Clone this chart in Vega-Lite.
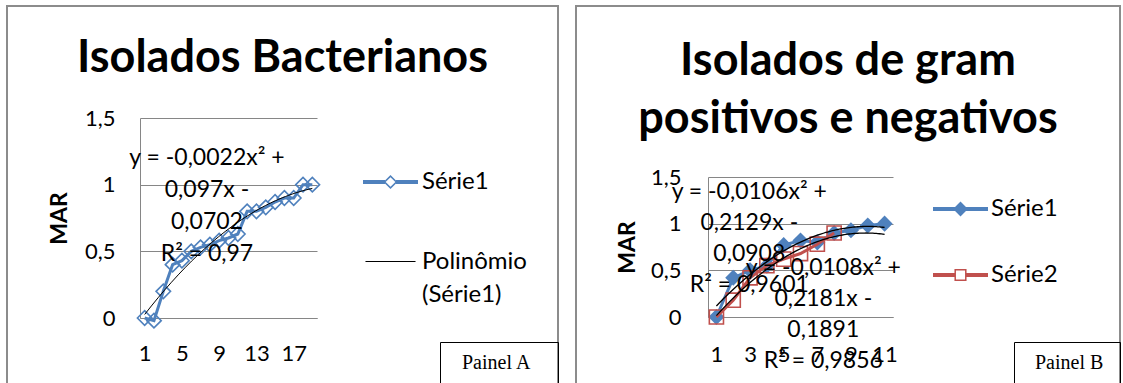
{
  "$schema": "https://vega.github.io/schema/vega-lite/v6.json",
  "background": "white",
  "padding": {"left": 6, "top": 5, "right": 0, "bottom": 0},
  "spacing": 15,
  "config": {"view": {"stroke": "#8c8c8c", "strokeWidth": 2}, "font": "Lato"},
  "resolve": {"scale": {"color": "independent", "strokeDash": "independent"}, "legend": {"color": "independent", "strokeDash": "independent"}},
  "hconcat": [
    {
      "width": 551,
      "height": 378,
      "title": {"text": "Isolados Bacterianos", "font": "Lato", "fontSize": 45, "fontWeight": "bold", "color": "#000", "anchor": "middle", "frame": "group", "offset": -75},
      "data": {"values": [
        {"x": 1, "y": 0, "s": "Série1"}, {"x": 2, "y": -0.02, "s": "Série1"}, {"x": 3, "y": 0.2, "s": "Série1"},
        {"x": 4, "y": 0.4, "s": "Série1"}, {"x": 5, "y": 0.43, "s": "Série1"}, {"x": 6, "y": 0.5, "s": "Série1"},
        {"x": 7, "y": 0.53, "s": "Série1"}, {"x": 8, "y": 0.55, "s": "Série1"}, {"x": 9, "y": 0.58, "s": "Série1"},
        {"x": 10, "y": 0.6, "s": "Série1"}, {"x": 11, "y": 0.63, "s": "Série1"}, {"x": 12, "y": 0.8, "s": "Série1"},
        {"x": 13, "y": 0.8, "s": "Série1"}, {"x": 14, "y": 0.83, "s": "Série1"}, {"x": 15, "y": 0.87, "s": "Série1"},
        {"x": 16, "y": 0.9, "s": "Série1"}, {"x": 17, "y": 0.9, "s": "Série1"}, {"x": 18, "y": 1, "s": "Série1"},
        {"x": 19, "y": 1, "s": "Série1"}
      ]},
      "encoding": {
        "x": {"field": "x", "type": "quantitative",
          "scale": {"domain": [0.5, 19.5], "range": [133, 310], "nice": false, "zero": false},
          "axis": {"orient": "bottom", "offset": -66, "values": [1, 5, 9, 13, 17], "labelFont": "Lato", "labelFontSize": 22, "labelColor": "#000", "labelPadding": 25, "labelFlush": false, "ticks": false, "grid": false, "domainColor": "#868686", "title": null}},
        "y": {"field": "y", "type": "quantitative",
          "scale": {"domain": [0, 1.5], "range": [312, 112], "nice": false, "zero": false},
          "axis": {"orient": "left", "offset": -133, "values": [0, 0.5, 1, 1.5], "labelExpr": "replace(toString(datum.value), '.', ',')", "labelFont": "Lato", "labelFontSize": 22, "labelColor": "#000", "labelPadding": 25, "ticks": false, "grid": true, "gridColor": "#868686", "domainColor": "#868686", "title": "MAR", "titleFont": "Lato", "titleFontSize": 23, "titleFontWeight": "bold", "titleColor": "#000", "titleX": -81, "titleY": 212, "titleAngle": -90, "titleAlign": "center", "titleBaseline": "middle"}}
      },
      "layer": [
        {
          "mark": {"type": "line", "strokeWidth": 3},
          "encoding": {
            "color": {"field": "s", "type": "nominal",
              "scale": {"domain": ["Série1", "Polinômio (Série1)"], "range": ["#4F81BD", "#000000"]},
              "legend": {"orient": "none", "legendX": 356, "legendY": 148.5, "title": null, "padding": 0, "symbolSize": 3025, "rowPadding": 39.5, "labelOffset": 4, "labelFont": "Lato", "labelFontSize": 24, "labelColor": "#000", "labelLimit": 300,
                "labelExpr": "datum.label == 'Polinômio (Série1)' ? ['Polinômio', '(Série1)'] : datum.label",
                "encode": {
                  "symbols": {"update": {
                    "shape": [{"test": "datum.index == 0", "value": "M-1,-0.07H-0.2V0.07H-1Z M0.2,-0.07H1V0.07H0.2Z M0,-0.255L0.255,0L0,0.255L-0.255,0Z M0,-0.177L-0.177,0L0,0.177L0.177,0Z"}, {"value": "M-0.91,-0.02H0.91V0.02H-0.91Z"}],
                    "fill": [{"test": "datum.index == 0", "value": "#4F81BD"}, {"value": "#000000"}],
                    "stroke": {"value": "transparent"},
                    "strokeWidth": {"value": 0},
                    "opacity": {"value": 1},
                    "fillOpacity": {"value": 1}
                  }},
                  "labels": {"update": {"lineHeight": {"value": 33}}}
                }}
            }
          }
        },
        {
          "mark": {"type": "point", "shape": "diamond", "filled": false, "stroke": "#4F81BD", "strokeWidth": 1.6, "size": 210, "opacity": 1}
        },
        {
          "transform": [{"regression": "y", "on": "x", "method": "poly", "order": 2, "extent": [1, 19]}],
          "mark": {"type": "line", "color": "#000", "strokeWidth": 1}
        },
        {
          "data": {"values": [{"x": 7.69, "y": 1.2, "label": "y = -0,0022x² +\n0,097x -\n0,0702\nR² = 0,97"}]},
          "mark": {"type": "text", "font": "Lato", "fontSize": 23, "lineHeight": 32, "lineBreak": "\n", "align": "center", "baseline": "middle", "color": "#000"},
          "encoding": {"text": {"field": "label", "type": "nominal"}}
        },
        {
          "transform": [{"filter": "false"}],
          "mark": {"type": "point"},
          "encoding": {
            "strokeDash": {"field": "p", "type": "nominal",
              "scale": {"domain": ["Painel A"], "range": [[1, 0]]},
              "legend": {"orient": "none", "legendX": 433, "legendY": 336, "title": "ii", "titleOrient": "right", "titlePadding": 4, "titleOpacity": 0, "titleFont": "Liberation Serif", "titleFontSize": 20, "padding": 11, "strokeColor": "#000", "symbolSize": 0, "symbolOpacity": 0, "labelOffset": -9, "labelFont": "Liberation Serif", "labelFontSize": 20, "labelColor": "#000",
                "encode": {"legend": {"update": {"strokeWidth": {"value": 1.5}}}}}
            }
          }
        }
      ]
    },
    {
      "width": 544,
      "height": 378,
      "title": {"text": ["Isolados de gram", "positivos e negativos"], "font": "Lato", "fontSize": 45, "fontWeight": "bold", "color": "#000", "anchor": "middle", "frame": "group", "lineHeight": 58, "offset": -136},
      "data": {"values": [
        {"x": 1, "y": 0, "s": "Série1"}, {"x": 2, "y": 0.42, "s": "Série1"}, {"x": 3, "y": 0.5, "s": "Série1"},
        {"x": 4, "y": 0.55, "s": "Série1"}, {"x": 5, "y": 0.77, "s": "Série1"}, {"x": 6, "y": 0.82, "s": "Série1"},
        {"x": 7, "y": 0.8, "s": "Série1"}, {"x": 8, "y": 0.9, "s": "Série1"}, {"x": 9, "y": 0.93, "s": "Série1"},
        {"x": 10, "y": 0.98, "s": "Série1"}, {"x": 11, "y": 1, "s": "Série1"},
        {"x": 1, "y": 0, "s": "Série2"}, {"x": 2, "y": 0.18, "s": "Série2"}, {"x": 3, "y": 0.42, "s": "Série2"},
        {"x": 4, "y": 0.55, "s": "Série2"}, {"x": 5, "y": 0.62, "s": "Série2"}, {"x": 6, "y": 0.68, "s": "Série2"},
        {"x": 7, "y": 0.78, "s": "Série2"}, {"x": 8, "y": 0.9, "s": "Série2"}
      ]},
      "encoding": {
        "x": {"field": "x", "type": "quantitative",
          "scale": {"domain": [0.5, 11.5], "range": [132, 317], "nice": false, "zero": false},
          "axis": {"orient": "bottom", "offset": -67, "values": [1, 3, 5, 7, 9, 11], "labelFont": "Lato", "labelFontSize": 22, "labelColor": "#000", "labelPadding": 27, "labelFlush": false, "ticks": false, "grid": false, "domainColor": "#868686", "title": null}},
        "y": {"field": "y", "type": "quantitative",
          "scale": {"domain": [0, 1.5], "range": [311, 171], "nice": false, "zero": false},
          "axis": {"orient": "left", "offset": -132, "values": [0, 0.5, 1, 1.5], "labelExpr": "replace(toString(datum.value), '.', ',')", "labelFont": "Lato", "labelFontSize": 22, "labelColor": "#000", "labelPadding": 27, "ticks": false, "grid": true, "gridColor": "#868686", "domainColor": "#868686", "title": "MAR", "titleFont": "Lato", "titleFontSize": 23, "titleFontWeight": "bold", "titleColor": "#000", "titleX": -81, "titleY": 241, "titleAngle": -90, "titleAlign": "center", "titleBaseline": "middle"}}
      },
      "layer": [
        {
          "transform": [{"filter": "datum.s == 'Série1'"}],
          "mark": {"type": "line", "strokeWidth": 3},
          "encoding": {
            "color": {"field": "s", "type": "nominal",
              "scale": {"domain": ["Série1", "Série2"], "range": ["#4F81BD", "#C0504D"]},
              "legend": {"orient": "none", "legendX": 357, "legendY": 175.5, "title": null, "padding": 0, "symbolSize": 3025, "rowPadding": 26, "labelOffset": 3, "labelFont": "Lato", "labelFontSize": 24, "labelColor": "#000", "labelLimit": 300,
                "encode": {
                  "symbols": {"update": {
                    "shape": [{"test": "datum.index == 0", "value": "M-1,-0.07H1V0.07H-1Z M0,-0.27L0.27,0L0,0.27L-0.27,0Z"}, {"value": "M-1,-0.07H-0.22V0.07H-1Z M0.22,-0.07H1V0.07H0.22Z M-0.22,-0.22H0.22V0.22H-0.22Z M-0.165,-0.165V0.165H0.165V-0.165Z"}],
                    "fill": [{"test": "datum.index == 0", "value": "#4F81BD"}, {"value": "#C0504D"}],
                    "stroke": {"value": "transparent"},
                    "strokeWidth": {"value": 0},
                    "opacity": {"value": 1},
                    "fillOpacity": {"value": 1}
                  }}
                }}
            }
          }
        },
        {
          "transform": [{"filter": "datum.s == 'Série1'"}],
          "mark": {"type": "point", "shape": "diamond", "filled": true, "color": "#4F81BD", "size": 260, "opacity": 1}
        },
        {
          "transform": [{"filter": "datum.s == 'Série2'"}],
          "mark": {"type": "line", "strokeWidth": 3},
          "encoding": {"color": {"field": "s", "type": "nominal"}}
        },
        {
          "transform": [{"filter": "datum.s == 'Série2'"}],
          "mark": {"type": "point", "shape": "square", "filled": false, "stroke": "#C0504D", "strokeWidth": 1.6, "size": 200, "opacity": 1}
        },
        {
          "transform": [{"regression": "y", "on": "x", "groupby": ["s"], "method": "poly", "order": 2, "extent": [1, 11]}],
          "mark": {"type": "line", "color": "#000", "strokeWidth": 1.3},
          "encoding": {"detail": {"field": "s", "type": "nominal"}}
        },
        {
          "data": {"values": [
            {"x": 2.955, "y": 1.339, "label": "y = -0,0106x² +\n0,2129x -\n0,0908\nR² = 0,9601"},
            {"x": 7.355, "y": 0.525, "label": "y = -0,0108x² +\n0,2181x -\n0,1891\nR² = 0,9856"}
          ]},
          "mark": {"type": "text", "font": "Lato", "fontSize": 23, "lineHeight": 31, "lineBreak": "\n", "align": "center", "baseline": "middle", "color": "#000"},
          "encoding": {"text": {"field": "label", "type": "nominal"}}
        },
        {
          "transform": [{"filter": "false"}],
          "mark": {"type": "point"},
          "encoding": {
            "strokeDash": {"field": "p", "type": "nominal",
              "scale": {"domain": ["Painel B"], "range": [[1, 0]]},
              "legend": {"orient": "none", "legendX": 438, "legendY": 336, "title": "i", "titleOrient": "right", "titlePadding": 0, "titleOpacity": 0, "titleFont": "Liberation Serif", "titleFontSize": 20, "padding": 11, "strokeColor": "#000", "symbolSize": 0, "symbolOpacity": 0, "labelOffset": -10, "labelFont": "Liberation Serif", "labelFontSize": 20, "labelColor": "#000",
                "encode": {"legend": {"update": {"strokeWidth": {"value": 1.5}}}}}
            }
          }
        }
      ]
    }
  ]
}
